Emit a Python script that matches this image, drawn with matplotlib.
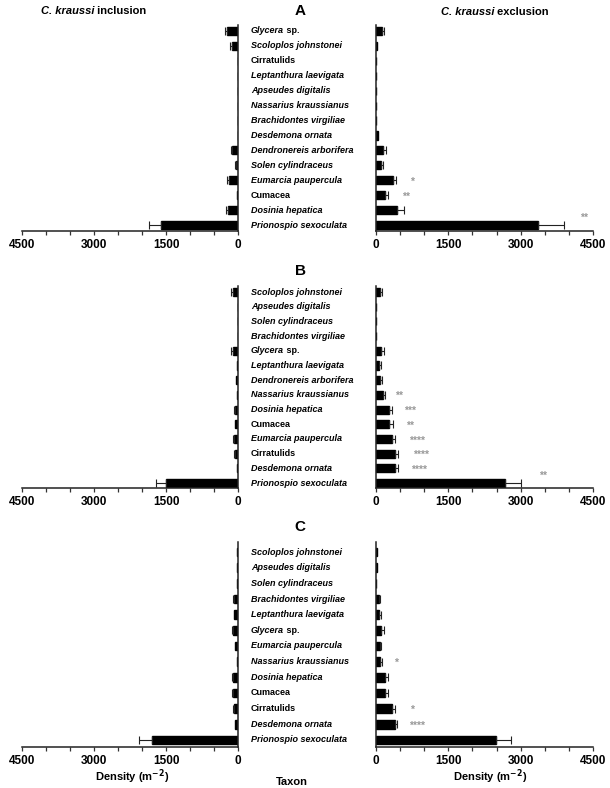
import matplotlib
matplotlib.use("Agg")
import matplotlib.pyplot as plt
from matplotlib.transforms import blended_transform_factory, offset_copy
from matplotlib.ticker import MultipleLocator, FixedLocator
import numpy as np

plt.rcParams['font.family'] = ['Liberation Sans', 'DejaVu Sans']

# ---------------- data ----------------
taxa_A = ["Glycera sp.", "Scoloplos johnstonei", "Cirratulids", "Leptanthura laevigata",
          "Apseudes digitalis", "Nassarius kraussianus", "Brachidontes virgiliae",
          "Desdemona ornata", "Dendronereis arborifera", "Solen cylindraceus",
          "Eumarcia paupercula", "Cumacea", "Dosinia hepatica", "Prionospio sexoculata"]
inc_A = [220, 115, 5, 3, 3, 3, 3, 5, 118, 40, 187, 28, 200, 1610]
inc_A_err = [60, 45, 0, 0, 0, 0, 0, 0, 32, 20, 49, 0, 43, 242]
exc_A = [124, 20, 5, 8, 8, 10, 10, 55, 145, 103, 365, 200, 434, 3362]
exc_A_err = [48, 0, 0, 0, 0, 0, 0, 0, 69, 42, 55, 62, 145, 531]
stars_A = [("Eumarcia paupercula", "*", 758), ("Cumacea", "**", 620),
           ("Prionospio sexoculata", "**", 4306)]

taxa_B = ["Scoloplos johnstonei", "Apseudes digitalis", "Solen cylindraceus",
          "Brachidontes virgiliae", "Glycera sp.", "Leptanthura laevigata",
          "Dendronereis arborifera", "Nassarius kraussianus", "Dosinia hepatica",
          "Cumacea", "Eumarcia paupercula", "Cirratulids", "Desdemona ornata",
          "Prionospio sexoculata"]
inc_B = [97, 5, 5, 5, 97, 20, 35, 15, 69, 55, 76, 55, 15, 1490]
inc_B_err = [41, 0, 0, 0, 48, 0, 0, 0, 21, 0, 21, 21, 0, 214]
exc_B = [96, 5, 5, 5, 109, 61, 96, 143, 273, 266, 335, 396, 396, 2670]
exc_B_err = [34, 0, 0, 0, 55, 48, 34, 48, 55, 82, 61, 75, 75, 335]
stars_B = [("Nassarius kraussianus", "**", 485), ("Dosinia hepatica", "***", 710),
           ("Cumacea", "**", 710), ("Eumarcia paupercula", "****", 847),
           ("Cirratulids", "****", 929), ("Desdemona ornata", "****", 901),
           ("Prionospio sexoculata", "**", 3450)]

taxa_C = ["Scoloplos johnstonei", "Apseudes digitalis", "Solen cylindraceus",
          "Brachidontes virgiliae", "Leptanthura laevigata", "Glycera sp.",
          "Eumarcia paupercula", "Nassarius kraussianus", "Dosinia hepatica",
          "Cumacea", "Cirratulids", "Desdemona ornata", "Prionospio sexoculata"]
inc_C = [20, 20, 15, 83, 76, 104, 55, 15, 97, 97, 83, 55, 1792]
inc_C_err = [0, 0, 0, 21, 0, 27, 0, 0, 21, 21, 14, 0, 263]
exc_C = [20, 20, 15, 68, 62, 116, 82, 82, 192, 198, 328, 390, 2490]
exc_C_err = [0, 0, 0, 14, 41, 55, 34, 55, 61, 62, 69, 55, 301]
stars_C = [("Nassarius kraussianus", "*", 410), ("Cirratulids", "*", 752),
           ("Desdemona ornata", "****", 855)]

panel_letters = ["A", "B", "C"]
x_ticks = [0, 1500, 3000, 4500]
x_max = 4500

# ---------------- layout ----------------
W, H = 610, 788
fig = plt.figure(figsize=(W / 100, H / 100), dpi=100)

# (top_px, bottom_px, top_pad_rows, bottom_pad_rows, letter_y_px)
layout = [(25, 231, 0.40, 0.40, 11),
          (286, 488, 0.41, 0.34, 271),
          (542, 747, 0.64, 0.45, 527)]
left_x0, left_w = 22, 216
right_x0, right_w = 375.7, 217.6
label_x = 251

panels = [
    (taxa_A, inc_A, inc_A_err, exc_A, exc_A_err, stars_A),
    (taxa_B, inc_B, inc_B_err, exc_B, exc_B_err, stars_B),
    (taxa_C, inc_C, inc_C_err, exc_C, exc_C_err, stars_C),
]

renderer = fig.canvas.get_renderer()


def mixed_text(x, y, parts, transform, size):
    """Draw consecutive text parts with different styles, left aligned."""
    tr = transform
    for txt, style in parts:
        t = fig.text(x, y, txt, transform=tr, fontsize=size, fontweight='bold',
                     fontstyle=style, ha='left', va='center')
        bb = t.get_window_extent(renderer=renderer)
        tr = offset_copy(tr, fig=fig, x=bb.width, y=0, units='dots')


def label_parts(name):
    if name in ("Cumacea", "Cirratulids"):
        return [(name, 'normal')]
    if name.endswith(" sp."):
        return [(name[:-4], 'italic'), (" sp.", 'normal')]
    return [(name, 'italic')]


def style_axis(ax):
    ax.set_xlim(0, x_max)
    ax.xaxis.set_major_locator(FixedLocator(x_ticks))
    ax.xaxis.set_minor_locator(MultipleLocator(500))
    ax.tick_params(axis='x', which='both', direction='out', length=3, width=0.9,
                   color='#333333', pad=2.5, labelsize=8.5)
    ax.tick_params(axis='y', left=False, right=False, labelleft=False, labelright=False)
    ax.spines['top'].set_visible(False)
    for s in ax.spines.values():
        s.set_linewidth(1.1)
        s.set_color('#222222')


for p, ((taxa, inc, inc_err, exc, exc_err, stars), (top, bot, tpad, bpad, ly)) in enumerate(zip(panels, layout)):
    n = len(taxa)
    y = np.arange(n)
    y0 = 1 - bot / H
    h = (bot - top) / H
    axL = fig.add_axes([left_x0 / W, y0, left_w / W, h])
    axR = fig.add_axes([right_x0 / W, y0, right_w / W, h])

    for ax, vals, errs in ((axL, inc, inc_err), (axR, exc, exc_err)):
        vals = np.array(vals, dtype=float)
        errs = np.array(errs, dtype=float)
        ax.barh(y, vals, height=0.55, color='black', edgecolor='black', zorder=2)
        m = errs > 0
        ax.errorbar(vals[m], y[m], xerr=[np.zeros(m.sum()), errs[m]], fmt='none',
                    ecolor='#222222', elinewidth=0.8, capsize=2.8, capthick=0.8, zorder=3)
        style_axis(ax)
        ax.set_ylim(n - 1 + bpad, -tpad)

    axL.invert_xaxis()
    axL.spines['left'].set_visible(False)
    axR.spines['right'].set_visible(False)
    for lab in axL.get_xticklabels() + axR.get_xticklabels():
        lab.set_fontweight('bold')

    # significance stars
    for name, st, xv in stars:
        i = taxa.index(name)
        dy = -0.5 if name == "Prionospio sexoculata" else 0.1
        axR.text(xv, i + dy, st, ha='center', va='center', fontsize=7.5,
                 color='#999999', fontweight='bold')

    # taxon labels
    trans = blended_transform_factory(fig.transFigure, axR.transData)
    for i, name in enumerate(taxa):
        mixed_text(label_x / W, i, label_parts(name), trans, 6.5)

    # panel letter
    fig.text(300 / W, 1 - ly / H, panel_letters[p], ha='center', va='center',
             fontsize=11, fontweight='bold')

# headers
mixed_text(41 / W, 1 - 11 / H, [("C. kraussi", 'italic'), (" inclusion", 'normal')],
           fig.transFigure, 8)
mixed_text(441 / W, 1 - 12 / H, [("C. kraussi", 'italic'), (" exclusion", 'normal')],
           fig.transFigure, 8)

# bottom labels
fig.text(132 / W, 1 - 777 / H, "Density (m$^{\\mathbf{-2}}$)", ha='center', va='center',
         fontsize=8, fontweight='bold')
fig.text(490 / W, 1 - 777 / H, "Density (m$^{\\mathbf{-2}}$)", ha='center', va='center',
         fontsize=8, fontweight='bold')
fig.text(292 / W, 1 - 782 / H, "Taxon", ha='center', va='center',
         fontsize=8, fontweight='bold')

fig.savefig("out.png", dpi=100)
